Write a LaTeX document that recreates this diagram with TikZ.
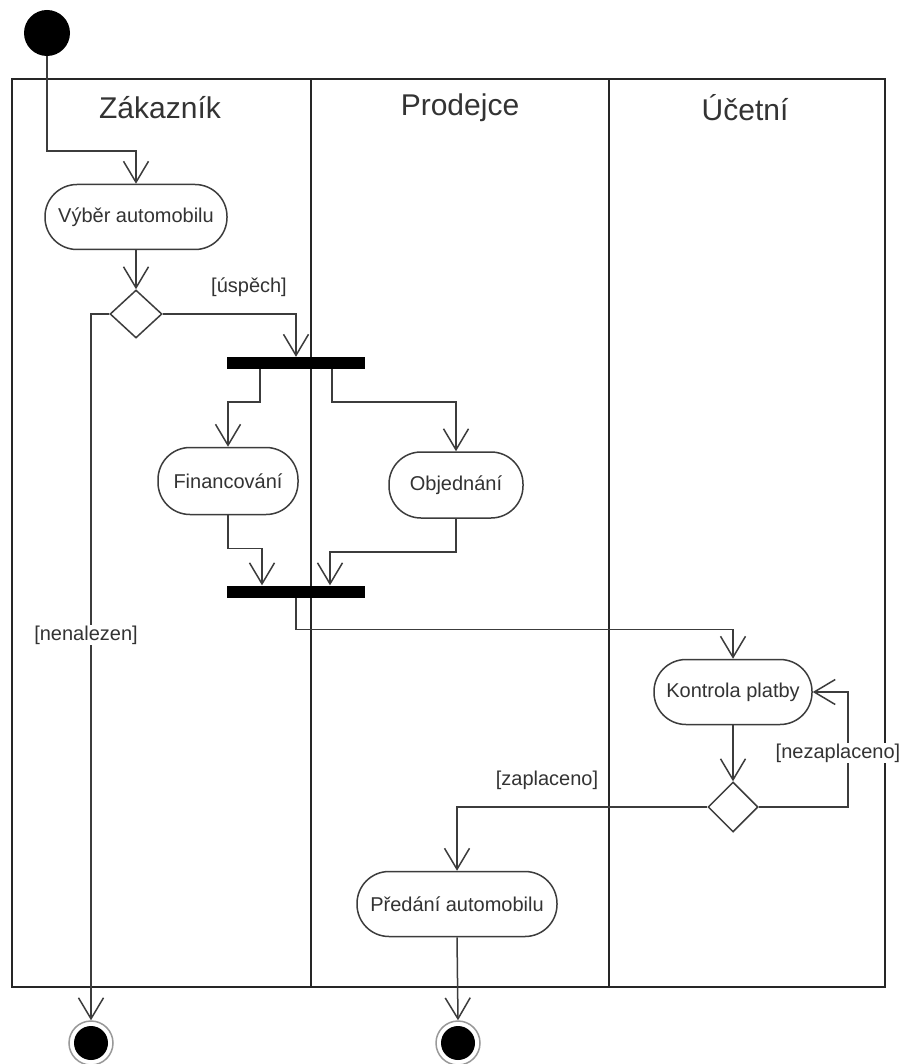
\documentclass[tikz,border=0pt]{standalone}
\usepackage{fontspec}
\setmainfont{Liberation Sans}
\usetikzlibrary{arrows.meta,shapes.geometric}
\definecolor{ink}{HTML}{3C3C3C}
\definecolor{txt}{HTML}{333333}
\tikzset{
  every node/.style={text=txt},
  lane/.style={draw=black!85, line width=1.6pt},
  lanetitle/.style={font=\fontsize{30}{34}\selectfont},
  activity/.style={draw=ink, line width=1.5pt, rectangle, rounded corners=32pt,
    minimum height=65pt, inner sep=0pt, font=\fontsize{20}{24}\selectfont, fill=white},
  decision/.style={draw=ink, line width=1.5pt, diamond, inner sep=0pt, fill=white},
  bar/.style={fill=black, draw=none, rectangle, minimum width=138pt, minimum height=12pt, inner sep=0pt},
  startnode/.style={circle, fill=black, minimum size=46pt, inner sep=0pt},
  endnode/.style={circle, draw=gray!80, line width=1.5pt, fill=white, minimum size=44pt, inner sep=0pt,
    path picture={\fill[black] (path picture bounding box.center) circle (17pt);}},
  guard/.style={font=\fontsize{20}{24}\selectfont, inner sep=1pt},
  flow/.style={draw=ink, line width=1.5pt, -{Straight Barb[length=21pt,width=25pt,line width=1.5pt]}},
}
\begin{document}
\begin{tikzpicture}[x=1pt,y=-1pt]
\useasboundingbox (0,0) rectangle (903,1064);
\fill[white] (0,0) rectangle (903,1064);

% swimlanes
\draw[lane] (12,79) rectangle (885,987);
\draw[lane] (311,79) -- (311,987);
\draw[lane] (609,79) -- (609,987);
\node[lanetitle] (t1) at (160,108) {Zákazník};
\node[lanetitle] (t2) at (460,108) {Prodejce};
\node[lanetitle] (t3) at (745,108) {Účetní};

% nodes
\node[startnode] (start) at (47,33) {};
\node[activity, minimum width=182pt] (vyber) at (136,217) {Výběr automobilu};
\node[decision, minimum width=52pt, minimum height=48pt] (d1) at (136,314) {};
\node[bar] (bar1) at (296,363) {};
\node[activity, minimum width=140pt, minimum height=67pt] (fin) at (228,481) {Financování};
\node[activity, minimum width=134pt, minimum height=66pt] (obj) at (456,485) {Objednání};
\node[bar] (bar2) at (296,591.5) {};
\node[activity, minimum width=158pt] (kon) at (733,692) {Kontrola platby};
\node[decision, minimum width=50pt, minimum height=50pt] (d2) at (733,807) {};
\node[activity, minimum width=200pt] (pred) at (457,904) {Předání automobilu};
\node[endnode] (end1) at (91,1043) {};
\node[endnode] (end2) at (458,1043) {};

% control flows
\draw[flow] (start.south) -- ++(0,95) -| (vyber.north);
\draw[flow] (vyber.south) -- (d1.north);
\draw[flow] (d1.east) -| (bar1.north);
\draw[flow] (d1.west) -| (end1.north);
\draw[flow] ([xshift=-36pt]bar1.south) -- ++(0,33) -| (fin.north);
\draw[flow] ([xshift=36pt]bar1.south) -- ++(0,33) -| (obj.north);
\draw[flow] (fin.south) -- ++(0,33) -| ([xshift=-34pt]bar2.north);
\draw[flow] (obj.south) -- ++(0,33) -| ([xshift=34pt]bar2.north);
\draw[flow] (bar2.south) -- ++(0,32) -| (kon.north);
\draw[flow] (kon.south) -- (d2.north);
\draw[flow] (d2.east) -- ++(89,0) |- (kon.east);
\draw[flow] (d2.west) -| (pred.north);
\draw[flow] (pred.south) -- (end2.north);

% guards
\node[guard] (g1) at (249,287) {[úspěch]};
\node[guard, fill=white] (g2) at (86,635) {[nenalezen]};
\node[guard, fill=white] (g3) at (838,753) {[nezaplaceno]};
\node[guard] (g4) at (547,780) {[zaplaceno]};
\end{tikzpicture}
\end{document}
